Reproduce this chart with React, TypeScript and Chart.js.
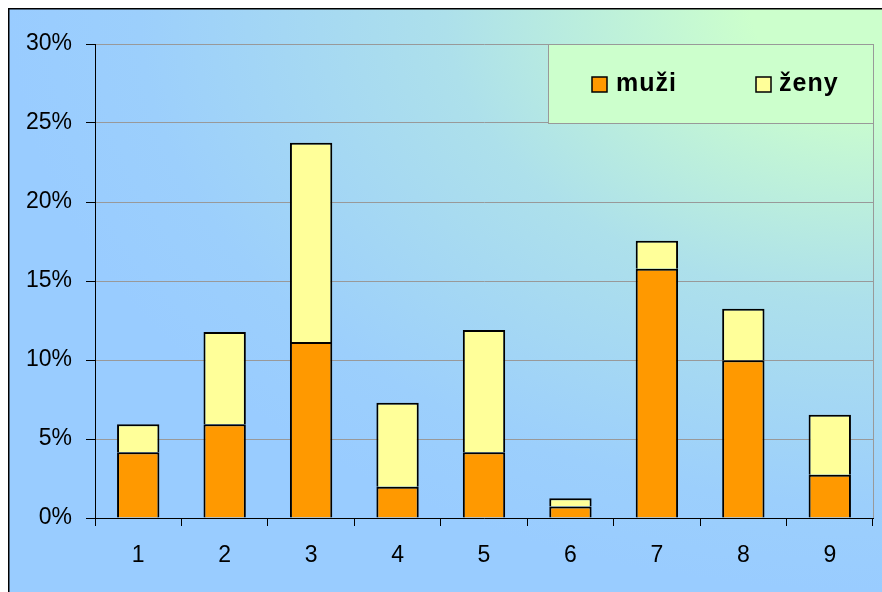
import React, { useEffect, useRef } from "react";
import { Chart, registerables } from "chart.js";

Chart.register(...registerables);

const categories = ["1", "2", "3", "4", "5", "6", "7", "8", "9"];
const muzi = [4.16, 5.93, 11.14, 1.98, 4.16, 0.72, 15.78, 9.98, 2.74];
const zeny = [1.77, 5.84, 12.61, 5.32, 7.74, 0.53, 1.77, 3.27, 3.8];
const seriesNames = ["muži", "ženy"];
const seriesColors = ["#FF9900", "#FFFF99"];
const yTicks = [0, 5, 10, 15, 20, 25, 30];

const FONT = "'Liberation Sans', Arial, sans-serif";

const bgPlugin = {
  id: "bgPlugin",
  beforeDraw(chart: any) {
    const { ctx, width, height } = chart;
    ctx.save();
    ctx.translate(width, 0);
    ctx.scale(width, height);
    const g = ctx.createRadialGradient(0, 0, 0, 0, 0, 1);
    g.addColorStop(0, "#CCFFCC");
    g.addColorStop(0.15, "#CCFFCC");
    g.addColorStop(0.5, "#ADE0EB");
    g.addColorStop(0.85, "#9CCFFC");
    g.addColorStop(1, "#99CCFF");
    ctx.fillStyle = g;
    ctx.fillRect(-1, 0, 1, 1);
    ctx.restore();
    ctx.save();
    ctx.strokeStyle = "#000";
    ctx.lineWidth = 1.5;
    ctx.beginPath();
    ctx.moveTo(0.75, height);
    ctx.lineTo(0.75, 0.75);
    ctx.lineTo(width, 0.75);
    ctx.stroke();
    ctx.restore();
  },
  beforeDatasetsDraw(chart: any) {
    const { ctx, chartArea } = chart;
    ctx.save();
    ctx.strokeStyle = "#999999";
    ctx.lineWidth = 1;
    ctx.beginPath();
    ctx.moveTo(chartArea.right + 0.5, chartArea.top);
    ctx.lineTo(chartArea.right + 0.5, chartArea.bottom);
    ctx.stroke();
    ctx.restore();
  },
  afterDatasetsDraw(chart: any) {
    const { ctx, chartArea } = chart;
    const y = chart.scales.y;
    const top = y.getPixelForValue(30);
    const bottom = y.getPixelForValue(25);
    const left = 540.5;
    const right = chartArea.right + 0.5;
    ctx.save();
    ctx.fillStyle = "#CCFFCC";
    ctx.fillRect(left, top, right - left, bottom - top);
    ctx.strokeStyle = "#999999";
    ctx.lineWidth = 1;
    ctx.strokeRect(left, Math.round(top) + 0.5, right - left, bottom - top);
    const items = [
      { sx: 584, tx: 608 },
      { sx: 748, tx: 771 },
    ];
    ctx.font = `bold 25px ${FONT}`;
    ctx.textBaseline = "alphabetic";
    ctx.textAlign = "left";
    try {
      (ctx as any).letterSpacing = "1px";
    } catch (e) {}
    chart.data.datasets.forEach((ds: any, i: number) => {
      const it = items[i];
      ctx.fillStyle = ds.backgroundColor;
      ctx.fillRect(it.sx, 69, 15, 15);
      ctx.strokeStyle = "#000";
      ctx.lineWidth = 1.5;
      ctx.strokeRect(it.sx, 69, 15, 15);
      ctx.fillStyle = "#000";
      ctx.fillText(ds.label, it.tx, 83);
    });
    try {
      (ctx as any).letterSpacing = "0px";
    } catch (e) {}
    ctx.restore();
  },
};

export default function App() {
  const ref = useRef<HTMLCanvasElement>(null);
  useEffect(() => {
    if (!ref.current) return;
    const chart = new Chart(ref.current, {
      type: "bar",
      data: {
        labels: categories,
        datasets: [
          {
            label: seriesNames[0],
            data: muzi,
            backgroundColor: seriesColors[0],
            borderColor: "#000",
            borderWidth: 2,
            barPercentage: 0.49,
            categoryPercentage: 1,
          },
          {
            label: seriesNames[1],
            data: zeny,
            backgroundColor: seriesColors[1],
            borderColor: "#000",
            borderWidth: 2,
            barPercentage: 0.49,
            categoryPercentage: 1,
          },
        ],
      },
      options: {
        animation: false,
        responsive: true,
        maintainAspectRatio: false,
        layout: { padding: { top: 36, right: 9, left: 0, bottom: 0 } },
        plugins: {
          legend: { display: false },
          tooltip: { enabled: false },
        },
        scales: {
          x: {
            stacked: true,
            grid: {
              offset: true,
              drawOnChartArea: false,
              drawTicks: true,
              tickLength: 8,
              tickColor: "#000",
            },
            border: { color: "#000", width: 1 },
            ticks: {
              color: "#000",
              font: { family: FONT, size: 23 },
              padding: 16,
              maxRotation: 0,
            },
            afterFit(scale: any) {
              scale.height = 74;
            },
          },
          y: {
            stacked: true,
            min: 0,
            max: 30,
            afterBuildTicks(scale: any) {
              scale.ticks = yTicks.map((v) => ({ value: v }));
            },
            grid: {
              color: "#999999",
              lineWidth: 1,
              tickLength: 9,
              tickColor: "#000",
            },
            border: { color: "#000", width: 1 },
            ticks: {
              color: "#000",
              font: { family: FONT, size: 23 },
              padding: 14,
              callback: (v: any) => `${v}%`,
            },
            afterFit(scale: any) {
              scale.width = 87;
            },
          },
        },
      },
      plugins: [bgPlugin],
    });
    return () => chart.destroy();
  }, []);
  return (
    <div style={{ position: "fixed", left: 8, top: 8, width: 874, height: 584 }}>
      <canvas ref={ref} />
    </div>
  );
}
